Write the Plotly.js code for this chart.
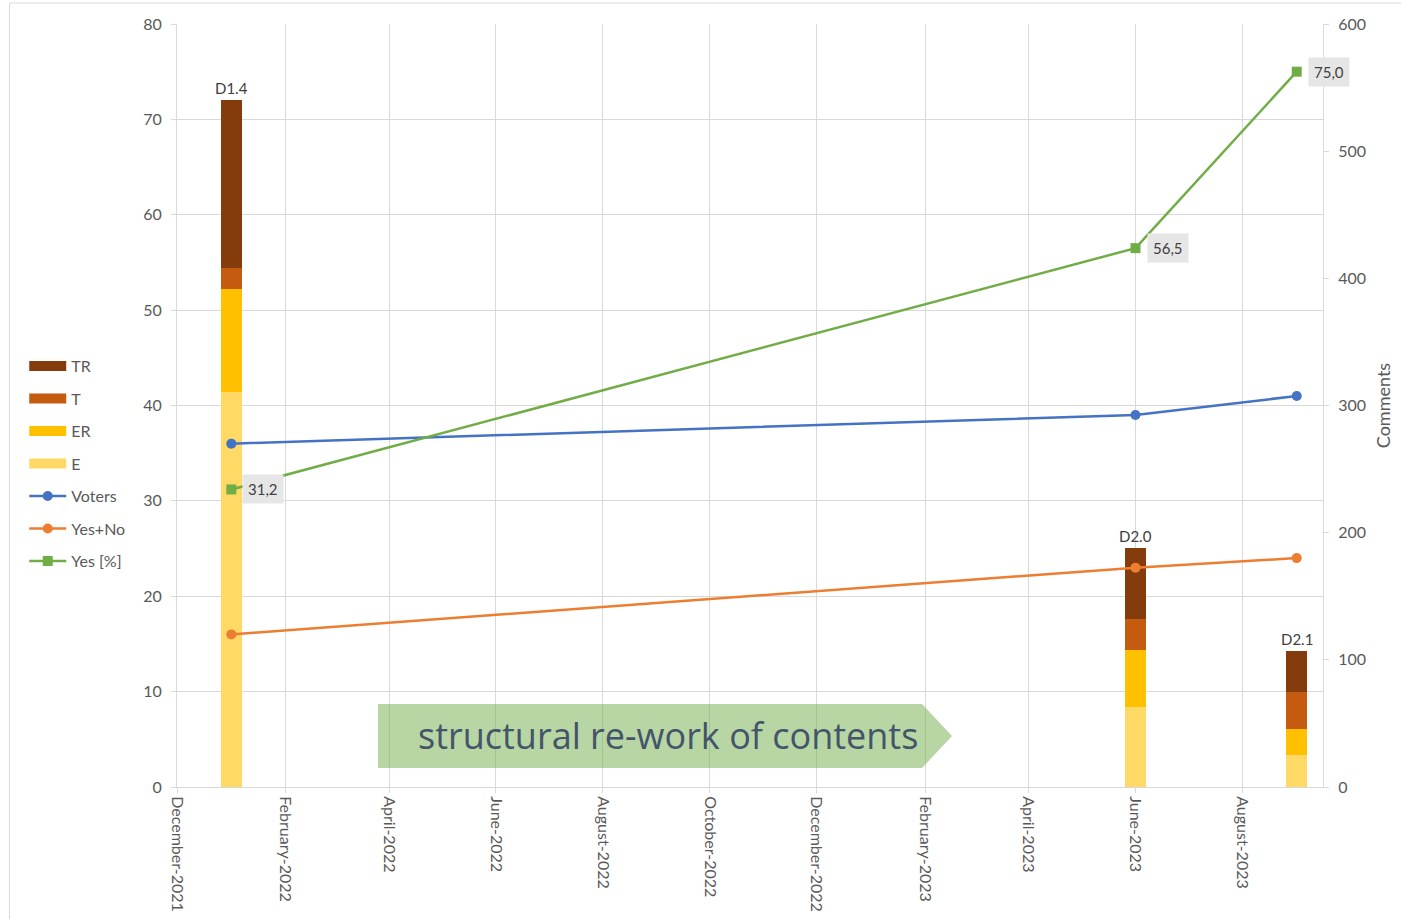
<!DOCTYPE html>
<html>
<head>
<meta charset="utf-8">
<script src="https://cdn.plot.ly/plotly-3.0.1.min.js"></script>
<style>
  html, body { margin: 0; padding: 0; background: #fff; }
  #chart { width: 1401px; height: 919px; }
</style>
</head>
<body>
<div id="chart"></div>
<script>
// ---- data ----
const barDates  = ['2022-01-01', '2023-06-01', '2023-09-01'];
const barLabels = ['D1.4', 'D2.0', 'D2.1'];
const E  = [311, 63, 25];
const ER = [81, 45, 21];
const T  = [16, 24, 29];
const TR = [132, 56, 32];
const voters = [36, 39, 41];
const yesNo  = [16, 23, 24];
const yesPct = [31.2, 56.5, 75.0];
const seriesNames = ['E', 'ER', 'T', 'TR'];
const annotationText = 'structural re-work of contents';
const rightAxisTitle = 'Comments';

// ---- styles ----
const barColors = { E: '#FFD966', ER: '#FFC000', T: '#C55A11', TR: '#843C0C' };
const legendRank = { TR: 1, T: 2, ER: 3, E: 4 };
const textColor = '#595959';
const gridColor = '#D9D9D9';
const baseFont = 'Lato, "Open Sans", sans-serif';
const DAY = 86400000;

const barData = { E: E, ER: ER, T: T, TR: TR };
const traces = [];

seriesNames.forEach(function (name) {
  traces.push({
    type: 'bar', name: name, x: barDates, y: barData[name],
    width: 12 * DAY, marker: { color: barColors[name] },
    xaxis: 'x', yaxis: 'y', legendgroup: name, showlegend: false,
    hovertemplate: name + ': %{y}<extra></extra>'
  });
  // legend proxy (wide bar-like symbol)
  traces.push({
    type: 'scatter', mode: 'lines', name: name, x: [null], y: [null],
    line: { color: barColors[name], width: 10 },
    xaxis: 'x', yaxis: 'y', legendgroup: name, legendrank: legendRank[name],
    hoverinfo: 'skip'
  });
});

traces.push({
  type: 'scatter', mode: 'lines+markers', name: 'Voters', x: barDates, y: voters,
  line: { color: '#4472C4', width: 2.5 }, marker: { color: '#4472C4', size: 10, symbol: 'circle' },
  xaxis: 'x', yaxis: 'y2', legendgroup: 'Voters', legendrank: 5
});
traces.push({
  type: 'scatter', mode: 'lines+markers', name: 'Yes+No', x: barDates, y: yesNo,
  line: { color: '#ED7D31', width: 2.5 }, marker: { color: '#ED7D31', size: 10, symbol: 'circle' },
  xaxis: 'x', yaxis: 'y2', legendgroup: 'YesNo', legendrank: 6
});
traces.push({
  type: 'scatter', mode: 'lines+markers', name: 'Yes [%]', x: barDates, y: yesPct,
  line: { color: '#70AD47', width: 2.5 }, marker: { color: '#70AD47', size: 10, symbol: 'square' },
  xaxis: 'x', yaxis: 'y2', legendgroup: 'Yes', legendrank: 7
});

const annotations = [];
// bar labels on top of stacks
barDates.forEach(function (d, i) {
  const total = E[i] + ER[i] + T[i] + TR[i];
  annotations.push({
    x: d, y: total, xref: 'x', yref: 'y', text: barLabels[i],
    showarrow: false, yanchor: 'bottom', yshift: 1,
    font: { family: baseFont, size: 15, color: '#404040' }
  });
});
// Yes [%] data labels
barDates.forEach(function (d, i) {
  annotations.push({
    x: d, y: yesPct[i], xref: 'x', yref: 'y2',
    text: yesPct[i].toFixed(1).replace('.', ','),
    showarrow: false, xanchor: 'left', xshift: 11,
    bgcolor: '#E7E6E6', borderpad: 5,
    font: { family: baseFont, size: 15, color: '#404040' }
  });
});
// arrow text
annotations.push({
  x: 0.4284, y: 0.067, xref: 'paper', yref: 'paper', text: annotationText,
  showarrow: false, xanchor: 'center', yanchor: 'middle',
  font: { family: '"Open Sans", "Noto Sans", sans-serif', size: 36, color: '#44546A' }
});

const shapes = [
  {
    type: 'path', xref: 'paper', yref: 'paper',
    path: 'M0.1754,0.1088 L0.6501,0.1088 L0.6763,0.0668 L0.6501,0.0249 L0.1754,0.0249 Z',
    fillcolor: 'rgba(112,173,71,0.5)', line: { width: 0 }, layer: 'above'
  },
  {
    type: 'rect', xref: 'paper', yref: 'paper',
    x0: -0.1462, x1: 1.08, y0: -0.19, y1: 1.0275,
    line: { color: gridColor, width: 1 }, fillcolor: 'rgba(0,0,0,0)', layer: 'below'
  }
];

const layout = {
  width: 1401, height: 919,
  margin: { l: 177, r: 78, t: 24, b: 132 },
  paper_bgcolor: '#ffffff', plot_bgcolor: 'rgba(0,0,0,0)',
  barmode: 'stack',
  font: { family: baseFont, size: 15, color: textColor },
  showlegend: true,
  legend: {
    x: -0.1333, xanchor: 'left', y: 0.574, yanchor: 'top',
    traceorder: 'grouped', tracegroupgap: 8.7, itemwidth: 37,
    font: { family: baseFont, size: 16, color: textColor },
    bgcolor: 'rgba(0,0,0,0)'
  },
  xaxis: {
    type: 'date', range: ['2021-12-01', '2023-09-16'],
    tick0: '2021-12-01', dtick: 'M2', tickformat: '%B-%Y', tickangle: 90,
    showgrid: true, gridcolor: gridColor, gridwidth: 1,
    showline: true, linecolor: gridColor, linewidth: 1,
    ticks: 'outside', ticklen: 5, tickcolor: gridColor,
    tickfont: { family: baseFont, size: 16, color: textColor },
    zeroline: false, fixedrange: true
  },
  yaxis: {
    side: 'right', range: [0, 600], dtick: 100,
    showgrid: false, zeroline: false,
    showline: true, linecolor: gridColor, linewidth: 1,
    ticks: 'outside', ticklen: 5, tickcolor: gridColor,
    ticklabelstandoff: 6,
    tickfont: { family: baseFont, size: 16, color: textColor },
    title: { text: rightAxisTitle, font: { family: baseFont, size: 18, color: textColor }, standoff: 12 }
  },
  yaxis2: {
    overlaying: 'y', side: 'left', range: [0, 80], dtick: 10,
    showgrid: true, gridcolor: gridColor, gridwidth: 1, zeroline: false,
    showline: true, linecolor: gridColor, linewidth: 1,
    ticks: 'outside', ticklen: 5, tickcolor: gridColor,
    ticklabelstandoff: 6,
    tickfont: { family: baseFont, size: 16, color: textColor }
  },
  annotations: annotations,
  shapes: shapes
};

Plotly.newPlot('chart', traces, layout, { displayModeBar: false, staticPlot: false });
</script>
</body>
</html>
